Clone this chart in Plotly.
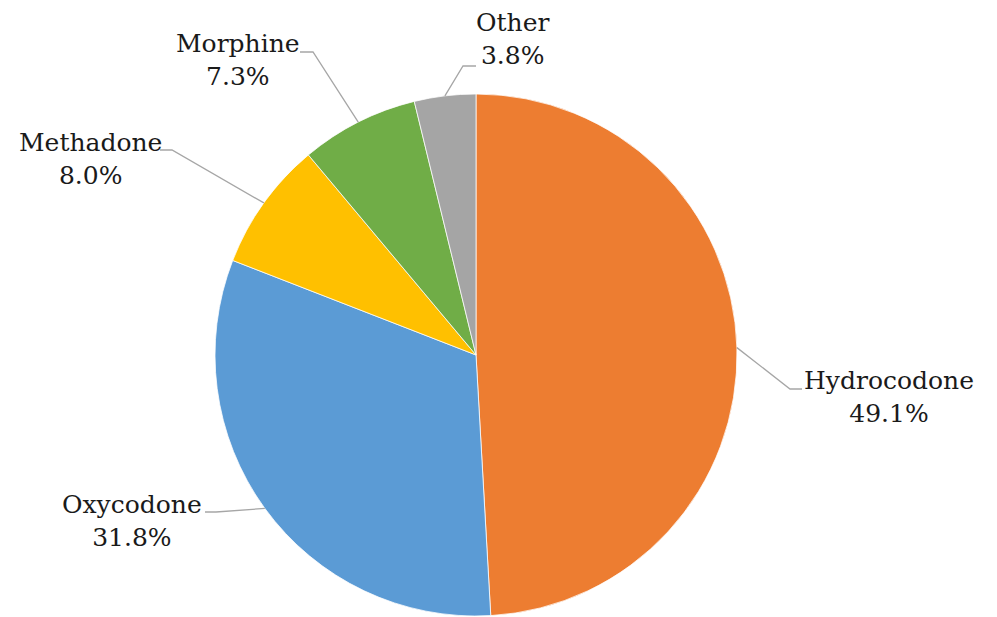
import math
import plotly.graph_objects as go

# Data
categories = ["Hydrocodone", "Oxycodone", "Methadone", "Morphine", "Other"]
shares = [49.1, 31.8, 8.0, 7.3, 3.8]
colors = ["#ED7D31", "#5B9BD5", "#FFC000", "#70AD47", "#A5A5A5"]

OFF = 8                      # page body margin offset
W, H = 997 - OFF, 617 - OFF  # figure size
CX, CY, R = 476, 355, 261    # pie centre / radius in page pixels (layout)

SERIF = "DejaVu Serif, Liberation Serif, Times New Roman, Noto Serif, serif"

# Label layout (page pixels): block centre, leader elbow, leader end
label_pos = {
    "Hydrocodone": (889, 397),
    "Oxycodone": (132, 521),
    "Methadone": (90, 159),
    "Morphine": (238, 60),
    "Other": (513, 39),
}
leader_elbow = {
    "Hydrocodone": ((790, 389), (802, 389)),
    "Oxycodone": ((216, 512), (205, 512)),
    "Methadone": ((172, 150), (160, 150)),
    "Morphine": ((313, 52), (300, 52)),
    "Other": ((463, 66), (476, 66)),
}

def px(x):
    return (x - OFF) / W

def py(y):
    return 1 - (y - OFF) / H

fig = go.Figure(go.Pie(
    labels=categories,
    values=shares,
    sort=False,
    direction="clockwise",
    rotation=0,
    marker=dict(colors=colors, line=dict(color="white", width=0.75)),
    textinfo="none",
    hoverinfo="label+percent",
    showlegend=False,
    domain=dict(x=[px(CX - R), px(CX + R)], y=[max(0, py(CY + R)), py(CY - R)]),
))

total = sum(shares)
cum = 0.0
shapes = []
annotations = []
for cat, val in zip(categories, shares):
    mid = (cum + val / 2) / total
    cum += val
    ang = 2 * math.pi * mid
    ex = CX + R * math.sin(ang)
    ey = CY - R * math.cos(ang)
    (bx, by), (tx, ty) = leader_elbow[cat]
    path = f"M {px(ex)},{py(ey)} L {px(bx)},{py(by)} L {px(tx)},{py(ty)}"
    shapes.append(dict(type="path", xref="paper", yref="paper", path=path,
                       line=dict(color="#A6A6A6", width=1.3)))
    lx, ly = label_pos[cat]
    annotations.append(dict(
        x=px(lx), y=py(ly), xref="paper", yref="paper",
        text=f"{cat}<br>{val:.1f}%", showarrow=False,
        xanchor="center", yanchor="middle", align="center",
        font=dict(family=SERIF, size=25, color="#1a1a1a"),
    ))

fig.update_layout(
    width=W, height=H, autosize=False,
    margin=dict(l=0, r=0, t=0, b=0),
    paper_bgcolor="white", plot_bgcolor="white",
    font=dict(family=SERIF),
    shapes=shapes, annotations=annotations,
)

fig.write_html("out.html")
